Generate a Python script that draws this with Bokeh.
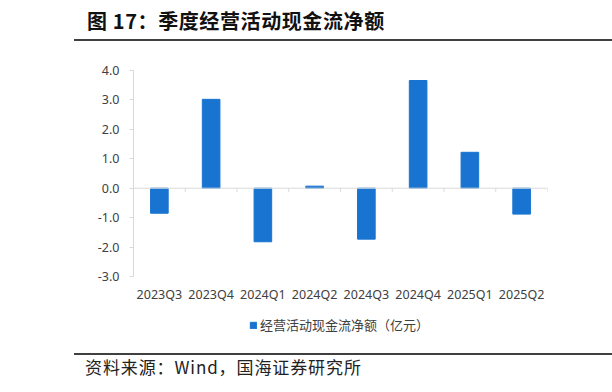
from bokeh.plotting import figure
from bokeh.layouts import column
from bokeh.models import (ColumnDataSource, FixedTicker, PrintfTickFormatter, Span,
                          Legend, LegendItem, Range1d, Div)
from bokeh.embed import file_html
from bokeh.resources import INLINE

categories = ["2023Q3", "2023Q4", "2024Q1", "2024Q2", "2024Q3", "2024Q4", "2025Q1", "2025Q2"]
values = [-0.85, 3.02, -1.82, 0.07, -1.73, 3.66, 1.22, -0.88]
y_ticks = [-3, -2, -1, 0, 1, 2, 3, 4]
series_name = "经营活动现金流净额（亿元）"
title_text = "图 17：季度经营活动现金流净额"
source_text = "资料来源：Wind，国海证券研究所"

BLUE = "#1874D0"
GRAY = "#D9D9D9"
TXT = "#404040"
RULE = "#404040"
W = 612
HEAD_H = 41          # header band: 0..41
CHART_H = 267        # chart band: 41..308
LEG_H = 30           # legend band: 308..338
FOOT_H = 54          # footer band: 338..392
FL, FR, FT, FB = 133, 547, 70, 276   # frame edges in page pixels

n = len(categories)
centers = [i + 0.5 for i in range(n)]
src = ColumnDataSource(dict(x=centers, top=values, cat=categories))

# ---- header
head = Div(width=W, height=HEAD_H, margin=0, text=(
    f'<div style="position:relative;width:{W}px;height:{HEAD_H}px;overflow:hidden;">'
    f'<div style="position:absolute;left:87px;top:8px;font-family:\'Noto Sans CJK SC\';'
    f'font-weight:bold;font-size:20px;letter-spacing:0.6px;line-height:26px;color:#111;'
    f'white-space:nowrap;">{title_text}</div>'
    f'<div style="position:absolute;left:74px;top:39.2px;width:{W - 74}px;height:1.6px;background:{RULE};"></div>'
    f'</div>'))

# ---- chart
p = figure(frame_width=FR - FL, frame_height=FB - FT, output_backend="svg", toolbar_location=None,
           x_range=Range1d(0, n), y_range=Range1d(-3, 4),
           min_border_left=FL, min_border_right=W - FR, min_border_top=FT - HEAD_H,
           min_border_bottom=HEAD_H + CHART_H - FB)
p.outline_line_color = None
p.grid.visible = False
p.background_fill_color = "white"
p.border_fill_color = "white"

r = p.vbar(x="x", top="top", bottom=0, width=0.34, source=src, color=BLUE)

p.add_layout(Span(location=0, dimension="width", line_color=GRAY, line_width=1))
bounds = list(range(1, n + 1))
p.segment(x0=bounds, x1=bounds, y0=[0] * n, y1=[-0.13] * n, line_color=GRAY, line_width=1)

ya = p.yaxis[0]
ya.ticker = FixedTicker(ticks=y_ticks)
ya.formatter = PrintfTickFormatter(format="%.1f")
ya.axis_line_color = GRAY
ya.major_tick_line_color = GRAY
ya.major_tick_out = 4
ya.major_tick_in = 0
ya.minor_tick_line_color = None
ya.major_label_text_font = "Noto Sans"
ya.major_label_text_font_size = "12.5px"
ya.major_label_text_color = TXT
ya.major_label_standoff = 10

xa = p.xaxis[0]
xa.ticker = FixedTicker(ticks=centers)
xa.major_label_overrides = {c: lab for c, lab in zip(centers, categories)}
xa.axis_line_color = None
xa.major_tick_line_color = None
xa.minor_tick_line_color = None
xa.major_label_text_font = "Noto Sans"
xa.major_label_text_font_size = "12.5px"
xa.major_label_text_color = TXT
xa.major_label_standoff = 3

# ---- legend band (frame aligned with the chart frame); the series' bars lie
# outside this band's y range, so only the legend key is drawn here
lf = figure(frame_width=FR - FL, frame_height=LEG_H, output_backend="svg", toolbar_location=None,
            x_range=Range1d(0, n), y_range=Range1d(100, 101), x_axis_type=None, y_axis_type=None,
            min_border_left=FL, min_border_right=W - FR, min_border_top=0, min_border_bottom=0)
lf.outline_line_color = None
lf.grid.visible = False
lf.border_fill_color = "white"
lf.background_fill_color = "white"
key = lf.vbar(x="x", top="top", bottom=0, width=0.34, source=src, color=BLUE)
leg = Legend(items=[LegendItem(label=series_name, renderers=[key])],
             location=(251 - FL - 2, 4),
             orientation="horizontal", border_line_color=None, background_fill_alpha=0,
             label_text_font="Noto Sans CJK SC", label_text_font_size="13px",
             label_text_color=TXT, glyph_width=8, glyph_height=8, padding=2, margin=0,
             label_standoff=3)
lf.add_layout(leg, "center")

# ---- footer
foot_top = HEAD_H + CHART_H + LEG_H
foot = Div(width=W, height=FOOT_H, margin=0, text=(
    f'<div style="position:relative;width:{W}px;height:{FOOT_H}px;overflow:hidden;">'
    f'<div style="position:absolute;left:74px;top:{353.2 - foot_top}px;width:{W - 74}px;'
    f'height:1.6px;background:{RULE};"></div>'
    f'<div style="position:absolute;left:85px;top:{368 - foot_top - 13}px;'
    f'font-family:\'Noto Sans CJK SC\';font-size:17px;letter-spacing:0.9px;line-height:24px;'
    f'color:#222;white-space:nowrap;">{source_text}</div>'
    f'</div>'))

layout = column(head, p, lf, foot, spacing=0)
open("out.html", "w").write(file_html(layout, INLINE))
